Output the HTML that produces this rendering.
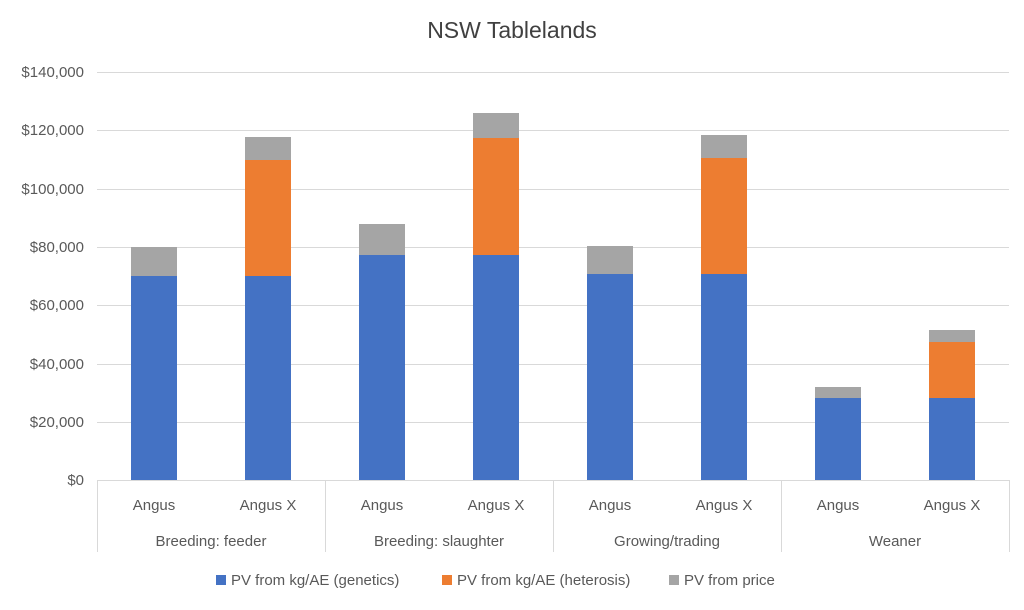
<!DOCTYPE html>
<html><head><meta charset="utf-8"><style>body{margin:0;background:#fff}</style></head>
<body>
<svg width="1024" height="605" xmlns="http://www.w3.org/2000/svg" font-family="Liberation Sans, sans-serif">
<rect width="1024" height="605" fill="#fff"/>
<text x="512" y="38" font-size="23" fill="#404040" text-anchor="middle">NSW Tablelands</text>
<g stroke="#d9d9d9" stroke-width="1">
<line x1="97" x2="1009" y1="72.5" y2="72.5"/><line x1="97" x2="1009" y1="130.5" y2="130.5"/>
<line x1="97" x2="1009" y1="189.5" y2="189.5"/><line x1="97" x2="1009" y1="247.5" y2="247.5"/>
<line x1="97" x2="1009" y1="305.5" y2="305.5"/><line x1="97" x2="1009" y1="364.5" y2="364.5"/>
<line x1="97" x2="1009" y1="422.5" y2="422.5"/><line x1="97" x2="1009" y1="480.5" y2="480.5"/>
<line x1="97.5" x2="97.5" y1="480" y2="552"/><line x1="325.5" x2="325.5" y1="480" y2="552"/>
<line x1="553.5" x2="553.5" y1="480" y2="552"/><line x1="781.5" x2="781.5" y1="480" y2="552"/>
<line x1="1009.5" x2="1009.5" y1="480" y2="552"/>
</g>
<g font-size="15" fill="#595959" text-anchor="end">
<text x="84" y="77">$140,000</text><text x="84" y="135">$120,000</text><text x="84" y="194">$100,000</text>
<text x="84" y="252">$80,000</text><text x="84" y="310">$60,000</text><text x="84" y="369">$40,000</text>
<text x="84" y="427">$20,000</text><text x="84" y="485">$0</text>
</g>
<g>
<rect x="131" y="247" width="46" height="29" fill="#a5a5a5"/><rect x="131" y="276" width="46" height="204" fill="#4472c4"/>
<rect x="245" y="137" width="46" height="23" fill="#a5a5a5"/><rect x="245" y="160" width="46" height="116" fill="#ed7d31"/><rect x="245" y="276" width="46" height="204" fill="#4472c4"/>
<rect x="359" y="224" width="46" height="31" fill="#a5a5a5"/><rect x="359" y="255" width="46" height="225" fill="#4472c4"/>
<rect x="473" y="113" width="46" height="25" fill="#a5a5a5"/><rect x="473" y="138" width="46" height="117" fill="#ed7d31"/><rect x="473" y="255" width="46" height="225" fill="#4472c4"/>
<rect x="587" y="246" width="46" height="28" fill="#a5a5a5"/><rect x="587" y="274" width="46" height="206" fill="#4472c4"/>
<rect x="701" y="135" width="46" height="23" fill="#a5a5a5"/><rect x="701" y="158" width="46" height="116" fill="#ed7d31"/><rect x="701" y="274" width="46" height="206" fill="#4472c4"/>
<rect x="815" y="387" width="46" height="11" fill="#a5a5a5"/><rect x="815" y="398" width="46" height="82" fill="#4472c4"/>
<rect x="929" y="330" width="46" height="12" fill="#a5a5a5"/><rect x="929" y="342" width="46" height="56" fill="#ed7d31"/><rect x="929" y="398" width="46" height="82" fill="#4472c4"/>
</g>
<g font-size="15" fill="#595959" text-anchor="middle">
<text x="154" y="510">Angus</text><text x="268" y="510">Angus X</text>
<text x="382" y="510">Angus</text><text x="496" y="510">Angus X</text>
<text x="610" y="510">Angus</text><text x="724" y="510">Angus X</text>
<text x="838" y="510">Angus</text><text x="952" y="510">Angus X</text>
<text x="211" y="546">Breeding: feeder</text><text x="439" y="546">Breeding: slaughter</text>
<text x="667" y="546">Growing/trading</text><text x="895" y="546">Weaner</text>
</g>
<g font-size="15" fill="#595959">
<rect x="216" y="575" width="10" height="10" fill="#4472c4"/><text x="231" y="585">PV from kg/AE (genetics)</text>
<rect x="442" y="575" width="10" height="10" fill="#ed7d31"/><text x="457" y="585">PV from kg/AE (heterosis)</text>
<rect x="669" y="575" width="10" height="10" fill="#a5a5a5"/><text x="684" y="585">PV from price</text>
</g>
</svg>
</body></html>
